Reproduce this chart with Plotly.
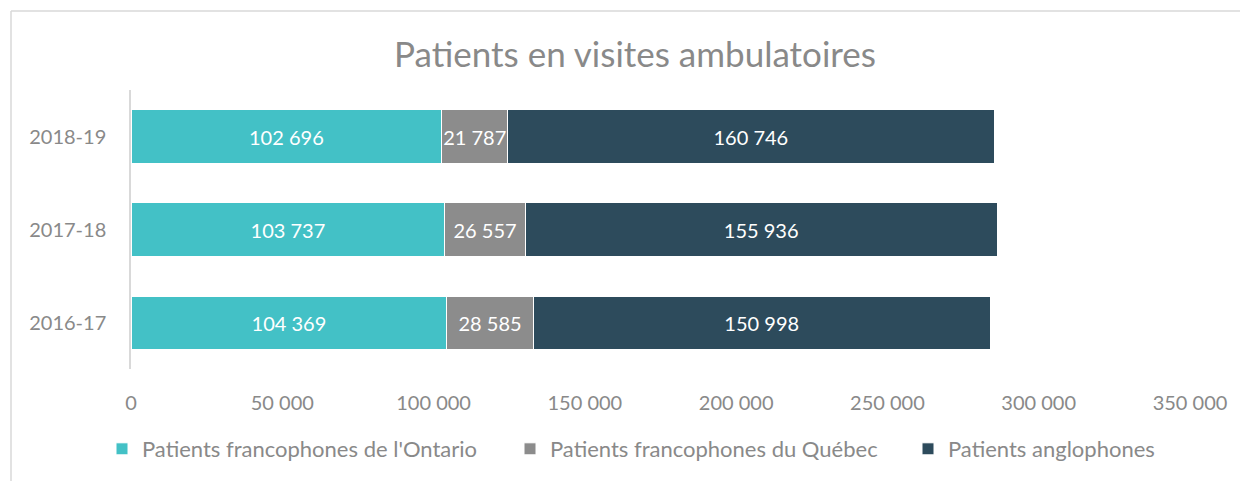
import plotly.graph_objects as go

years = ["2016-17", "2017-18", "2018-19"]
ontario = [104369, 103737, 102696]
quebec = [28585, 26557, 21787]
anglo = [150998, 155936, 160746]
series_names = ["Patients francophones de l'Ontario", "Patients francophones du Québec", "Patients anglophones"]
colors = ["#43C1C6", "#8C8C8C", "#2D4B5C"]
tick_vals = [0, 50000, 100000, 150000, 200000, 250000, 300000, 350000]

FONT = "Lato"
GREY = "#898989"

OFF = 8  # page body margin
W, H = 1248, 481
L, R, T, B = 131 - OFF, W - (1190 - OFF), 90 - OFF, H - (369 - OFF)
pw, ph = W - L - R, H - T - B

# helpers: convert page pixel positions (from reference) to paper coords
def px_x(p):
    return (p - OFF - L) / pw

def px_y(p):
    return (H - B - (p - OFF)) / ph

legend_ids = ["legend", "legend2", "legend3"]
legend_starts = [102, 510, 908]

fig = go.Figure()
for name, vals, col, lid in zip(series_names, [ontario, quebec, anglo], colors, legend_ids):
    fig.add_trace(go.Bar(
        y=years, x=vals, name=name, orientation="h", legend=lid,
        marker=dict(color=col, line=dict(color="white", width=1)),
        texttemplate="%{x:,}", textposition="inside", insidetextanchor="middle",
        textangle=0, constraintext="none",
        insidetextfont=dict(color="white", size=20, family=FONT),
        hoverinfo="x+name",
    ))

legend_layouts = {}
for lid, xs in zip(legend_ids, legend_starts):
    legend_layouts[lid] = dict(orientation="h", x=px_x(xs), xanchor="left", y=px_y(449), yanchor="middle",
                               font=dict(size=22, color=GREY), bgcolor="rgba(0,0,0,0)")

fig.update_layout(
    width=W, height=H,
    barmode="stack", bargap=0.43,
    separators=", ",
    plot_bgcolor="white", paper_bgcolor="white",
    margin=dict(l=L, r=R, t=T, b=B),
    font=dict(family=FONT, color=GREY, size=20),
    uniformtext=dict(minsize=20, mode="show"),
    title=dict(text="Patients en visites ambulatoires", x=(635 - OFF) / W, xanchor="center",
               y=1 - (55 - OFF) / H, yanchor="middle", font=dict(size=35, color=GREY, family=FONT)),
    xaxis=dict(range=[0, 350000], tickvals=tick_vals, tickformat=",", showgrid=False,
               zeroline=False, showline=False, ticklabelstandoff=20,
               tickfont=dict(size=20, color=GREY)),
    yaxis=dict(showgrid=False, zeroline=False, showline=True, linecolor="#D9D9D9", linewidth=1.5,
               ticklabelstandoff=19, tickfont=dict(size=20, color=GREY)),
    showlegend=True,
    shapes=[
        dict(type="line", xref="paper", yref="paper", x0=px_x(11), x1=px_x(1270), y0=px_y(11), y1=px_y(11),
             line=dict(color="#D9D9D9", width=1.5)),
        dict(type="line", xref="paper", yref="paper", x0=px_x(11), x1=px_x(11), y0=px_y(11), y1=px_y(500),
             line=dict(color="#D9D9D9", width=1.5)),
    ],
    **legend_layouts,
)

fig.write_html("out.html")
